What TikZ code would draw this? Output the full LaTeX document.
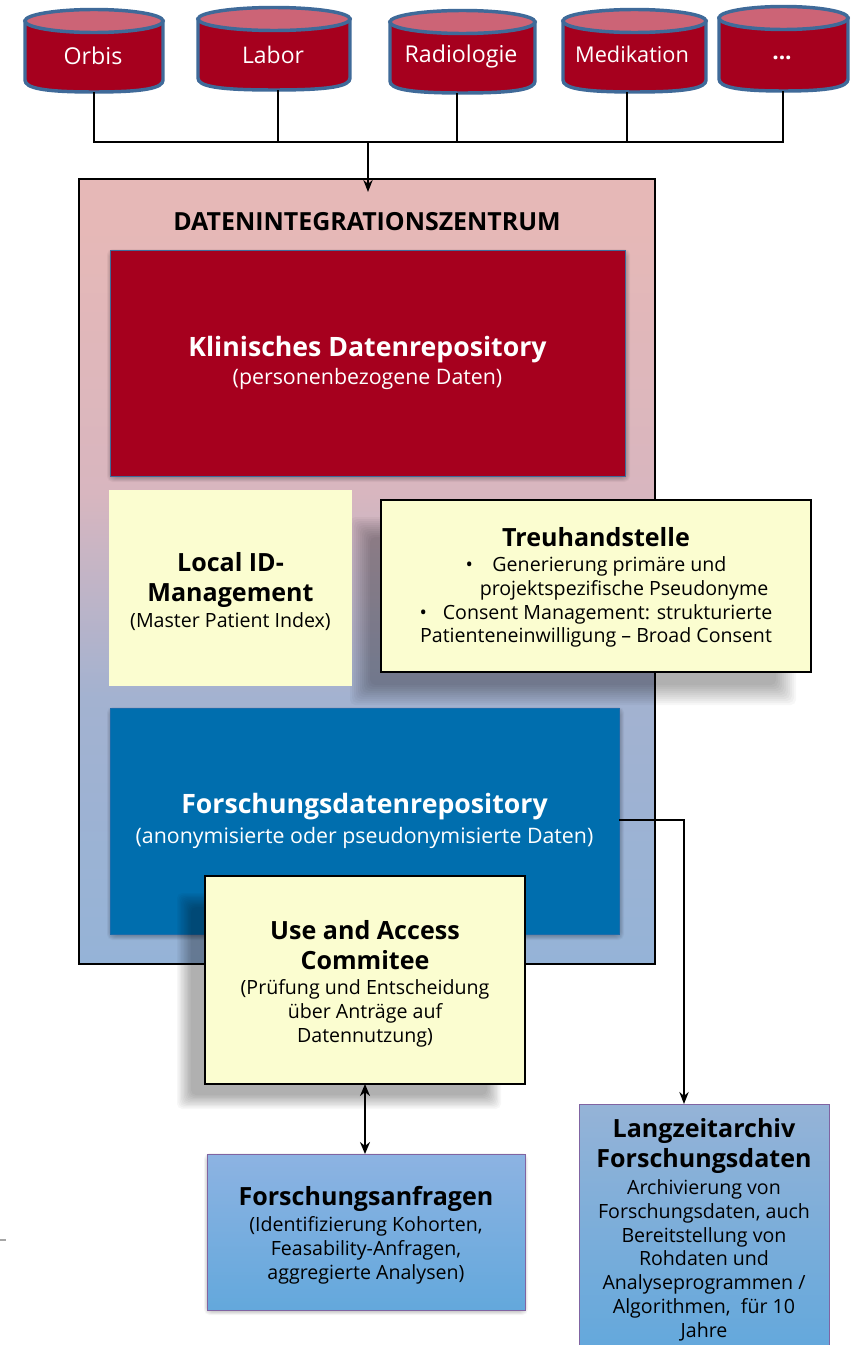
\documentclass[tikz,border=0pt]{standalone}
\usepackage{fontspec}
\setmainfont{Open Sans}
\usetikzlibrary{shapes.geometric,arrows.meta}
\definecolor{crimson}{HTML}{A6001E}
\definecolor{capred}{HTML}{CC6476}
\definecolor{cylline}{HTML}{3F6A99}
\definecolor{pale}{HTML}{FBFDD0}
\definecolor{dblue}{HTML}{006EAE}
\definecolor{pinktop}{HTML}{E6B8B7}
\definecolor{pinkmid}{HTML}{D8B6BF}
\definecolor{bluemid}{HTML}{A3B2D0}
\definecolor{bluebot}{HTML}{95B3D7}
\definecolor{lilac}{HTML}{8064A2}
\definecolor{qtop}{HTML}{8DB3E2}
\definecolor{qbot}{HTML}{63A8DC}
\pgfdeclareverticalshading{dicshade}{100bp}{color(0bp)=(bluebot); color(25bp)=(bluebot); color(42bp)=(bluemid); color(55bp)=(pinkmid); color(72bp)=(pinktop); color(100bp)=(pinktop)}
\newcommand{\px}{0.75pt}
% soft shadow: x1,y1,x2,y2,blur radius
\newcommand{\softshadow}[5]{%
  \foreach \k in {-1,-0.8,...,1.01}{%
    \fill[black,opacity=.03,rounded corners=4pt]
      (#1-\k*#5,#2-\k*#5) rectangle (#3+\k*#5,#4+\k*#5);}}
\newcommand{\hd}[1]{{\fontsize{18.8pt}{25pt}\selectfont\bfseries #1}}
\newcommand{\hdb}[1]{{\fontsize{20pt}{25pt}\selectfont\bfseries #1}}
% cylinder: name,x1,y1,x2,y2,text x,text y,font size,text
\newcommand{\cyl}[9]{%
  \fill[crimson,draw=cylline,line width=2.6pt]
    (#2,#3+12) -- (#2,#5-12) .. controls (#2,#5-4) and (#2+18,#5) .. ({(#2+#4)/2},#5)
    .. controls (#4-18,#5) and (#4,#5-4) .. (#4,#5-12) -- (#4,#3+12) -- cycle;
  \fill[capred,draw=cylline,line width=2.6pt]
    ({(#2+#4)/2},#3+12) ellipse [x radius={(#4-#2)/2},y radius=11.5];
  \coordinate (#1) at ({(#2+#4)/2},#5);
  \node[cyltext,font=\fontsize{#8pt}{18pt}\selectfont] (#1t) at (#6,#7) {#9};}
\tikzset{
  sz/.style 2 args={minimum width=#1*\px,minimum height=#2*\px,inner sep=0pt,outer sep=0pt,align=center},
  body/.style={font=\fontsize{14.7pt}{17.8pt}\selectfont},
  bodyb/.style={font=\fontsize{16pt}{18pt}\selectfont},
  cyltext/.style={inner sep=0pt,text=white},
  conn/.style={black,line width=1.4pt},
  tip/.style={-{Stealth[length=9pt,width=7pt]}},
  whitebox/.style={draw=black,line width=1.2pt,fill=pale,text=black},
}
\begin{document}
\begin{tikzpicture}[x=0.75pt,y=-0.75pt]
\useasboundingbox (0,0) rectangle (855,1345);
\fill[white] (0,0) rectangle (855,1345);
% main box
\node[sz={576}{785},draw=black,line width=1.4pt,shade,shading=dicshade] (dic) at (367,571.5) {};
\node[font=\fontsize{18.7pt}{20pt}\selectfont\bfseries] (dictitle) at (367,222) {DATENINTEGRATIONSZENTRUM};
% clinical
\softshadow{110}{252}{627}{479}{3}
\node[sz={515}{226},fill=crimson,draw=cylline,line width=.4pt,text=white,bodyb] (kdr) at (367.5,363)
 {\hdb{Klinisches Datenrepository}\\[3.5pt](personenbezogene Daten)};
% Treuhand shadow
\softshadow{360}{527}{786}{695}{10}
% local
\node[sz={243}{196},fill=pale,body] (lid) at (230.5,588)
 {\rule{0pt}{19pt}\hd{Local ID-}\\[4.7pt]\hd{Management}\\[1.7pt](Master Patient Index)};
\node[sz={430}{172},whitebox,body] (th) at (596,586)
 {\rule{0pt}{17pt}\hd{Treuhandstelle}\\[.8pt]•\hspace{1em}Generierung primäre und\\
  \hspace*{42pt}projektspezifische Pseudonyme\\
  •\hspace{.8em}Consent Management: strukturierte\\
  Patienteneinwilligung – Broad Consent};
% research
\softshadow{110}{710}{621}{937}{3}
\node[sz={509}{226},fill=dblue,draw=dblue!80!lilac,line width=.4pt,text=white,bodyb] (fdr) at (364.5,821)
 {\hdb{Forschungsdatenrepository}\\[4pt](anonymisierte oder pseudonymisierte Daten)};
% UAC
\softshadow{184}{900}{494}{1102}{7}
\node[sz={320}{208},whitebox,body] (uac) at (365,980)
 {\rule{0pt}{20pt}\hd{Use and Access}\\[4.7pt]\hd{Commitee}\\[1.2pt](Prüfung und Entscheidung\\über Anträge auf\\Datennutzung)};
% Anfragen
\softshadow{207}{1156}{525}{1312}{3}
\node[sz={318}{156},draw=lilac,line width=.6pt,top color=qtop,bottom color=qbot,body] (fa) at (366,1232)
 {\rule{0pt}{19pt}\hd{Forschungsanfragen}\\[2pt](Identifizierung Kohorten,\\Feasability-Anfragen,\\aggregierte Analysen)};
% Langzeit
\node[sz={250}{247},draw=lilac,line width=.6pt,top color=bluebot,bottom color=qbot,body] (lz) at (704,1227.5)
 {\rule{0pt}{17pt}\hd{Langzeitarchiv}\\[3.2pt]\hd{Forschungsdaten}\\[2.4pt]Archivierung von\\Forschungsdaten, auch\\Bereitstellung von\\Rohdaten und\\Analyseprogrammen /\\Algorithmen,\ \ für 10\\Jahre};
% cylinders
\cyl{orbis}{25}{9}{163}{92}{93}{56}{17.4}{Orbis}
\cyl{labor}{198}{7}{350}{90}{273}{55}{17.2}{Labor}
\cyl{radio}{390}{10}{535}{93}{461}{56}{17.4}{Radiologie}
\cyl{medi}{563}{9}{706}{92}{632}{54}{16.3}{Medikation}
\cyl{more}{719}{6}{848}{91}{782}{58}{17}{\bfseries ...}
% connectors
\coordinate (b1) at (94,142);
\coordinate (b2) at (278,142);
\coordinate (b3) at (457,142);
\coordinate (b4) at (627,142);
\coordinate (b5) at (783,142);
\coordinate (bm) at (368,142);
\draw[conn] (b1 |- orbis) -- (b1) -- (b5) -- (b5 |- more);
\draw[conn] (b2) -- (b2 |- labor);
\draw[conn] (b3) -- (b3 |- radio);
\draw[conn] (b4) -- (b4 |- medi);
\draw[conn,tip] (bm) -- (bm |- dic.north) -- ++(0,13);
\coordinate (lzc) at (684,820);
\draw[conn,tip] (fdr.east |- lzc) -- (lzc) -- (lzc |- lz.north);
\draw[conn,line width=2pt,{Stealth[length=9pt,width=7.5pt]}-{Stealth[length=9pt,width=7.5pt]}] (uac.south) -- (uac.south |- fa.north);
\coordinate (ga) at (0,1240); \coordinate (gb) at (6,1240);
\draw[gray!70,line width=1pt] (ga) -- (gb);
\end{tikzpicture}
\end{document}
